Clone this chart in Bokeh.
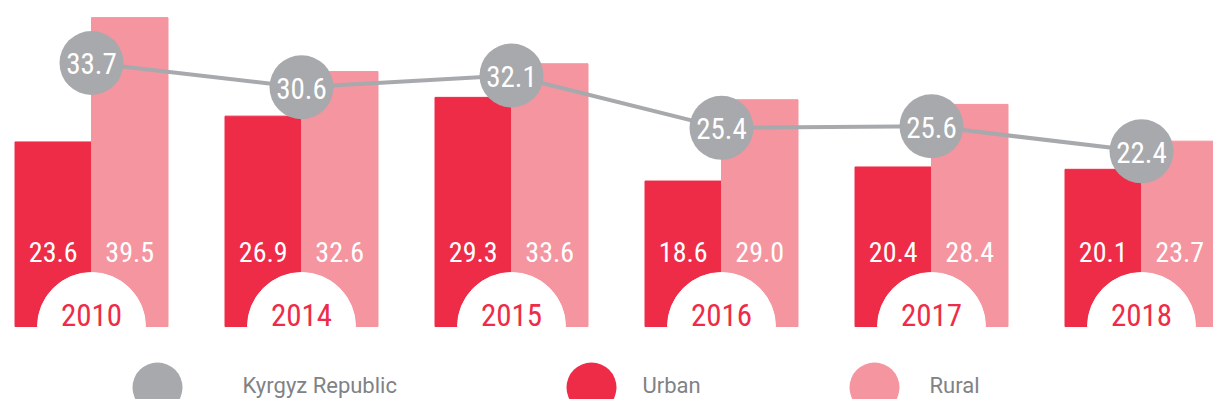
import math
from bokeh.plotting import figure
from bokeh.models import Range1d, ColumnDataSource
from bokeh.core.properties import value
from bokeh.embed import file_html
from bokeh.resources import INLINE

# ---- data ----
years = ["2010", "2014", "2015", "2016", "2017", "2018"]
urban = [23.6, 26.9, 29.3, 18.6, 20.4, 20.1]
rural = [39.5, 32.6, 33.6, 29.0, 28.4, 23.7]
kyrgyz = [33.7, 30.6, 32.1, 25.4, 25.6, 22.4]
legend_labels = ["Kyrgyz Republic", "Urban", "Rural"]

# ---- style ----
C_URBAN = "#EE2C48"
C_RURAL = "#F595A0"
C_GREY = "#A7A9AC"
C_LEGTXT = "#808285"
FONT = value("'Roboto Condensed', 'Liberation Sans Narrow', 'DejaVu Sans Condensed', sans-serif")
LEG_FONT = value("Roboto, 'Open Sans', sans-serif")

W, H = 1213, 399
PX_X = 210.0      # px per group
PX_Y = 7.82       # px per unit
BASE_PY = 326     # baseline in picture px
G0_PX = 91        # first group centre
x_start = -G0_PX / PX_X
x_end = x_start + W / PX_X
y_top = BASE_PY / PX_Y
y_bot = -(H - BASE_PY) / PX_Y

def sx(px):
    return x_start + px / PX_X

def sy(py):
    return (BASE_PY - py) / PX_Y

p = figure(width=W, height=H, output_backend="svg", toolbar_location=None,
           x_range=Range1d(x_start, x_end), y_range=Range1d(y_bot, y_top),
           x_axis_location=None, y_axis_location=None, min_border=0)
p.grid.visible = False
p.outline_line_color = None
p.background_fill_color = "white"
p.border_fill_color = "white"

xs = list(range(len(years)))
bw = 76.5 / PX_X
src = ColumnDataSource(dict(
    x=xs, xu=[x - bw / 2 for x in xs], xr=[x + bw / 2 for x in xs],
    years=years, urban=urban, rural=rural, kyrgyz=kyrgyz,
    ulab=[f"{v:.1f}" for v in urban], rlab=[f"{v:.1f}" for v in rural],
    klab=[f"{v:.1f}" for v in kyrgyz], zero=[0] * len(xs)))

p.vbar(x="xu", top="urban", bottom=0, width=bw, color=C_URBAN, source=src)
p.vbar(x="xr", top="rural", bottom=0, width=bw, color=C_RURAL, source=src)

# white half discs with years
p.wedge(x="x", y="zero", radius=54, radius_units="screen", start_angle=0,
        end_angle=math.pi, color="white", source=src)
p.text(x="x", y="zero", text="years", source=src, text_align="center",
       text_baseline="middle", y_offset=-12, text_color=C_URBAN,
       text_font=FONT, text_font_size="31px")

# value labels
p.text(x="xu", y="zero", text="ulab", source=src, text_align="center",
       text_baseline="middle", y_offset=-75, text_color="white",
       text_font=FONT, text_font_size="28px")
p.text(x="xr", y="zero", text="rlab", source=src, text_align="center",
       text_baseline="middle", y_offset=-75, text_color="white",
       text_font=FONT, text_font_size="28px")

# national line
p.line(x="x", y="kyrgyz", source=src, line_color=C_GREY, line_width=4)
p.scatter(x="x", y="kyrgyz", source=src, size=64, fill_color=C_GREY, line_color=None)
p.text(x="x", y="kyrgyz", text="klab", source=src, text_align="center",
       text_baseline="middle", y_offset=1, text_color="white",
       text_font=FONT, text_font_size="29px")

# legend
leg_src = ColumnDataSource(dict(
    cx=[sx(157), sx(591), sx(874)], cy=[sy(387)] * 3,
    tx=[sx(242), sx(642), sx(929)], ty=[sy(385)] * 3,
    label=legend_labels, color=[C_GREY, C_URBAN, C_RURAL]))
p.scatter(x="cx", y="cy", source=leg_src, size=50, fill_color="color", line_color=None)
p.text(x="tx", y="ty", text="label", source=leg_src, text_align="left",
       text_baseline="middle", text_color=C_LEGTXT, text_font=LEG_FONT,
       text_font_size="22px")

open("out.html", "w").write(file_html(p, INLINE))
